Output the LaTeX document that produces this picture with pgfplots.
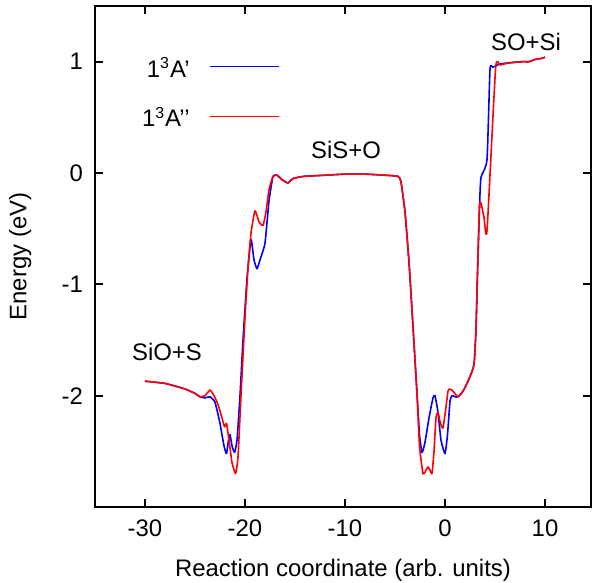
\documentclass[border=0pt]{standalone}
\usepackage{fontspec}
\setmainfont{Liberation Sans}
\usepackage{pgfplots}
\pgfplotsset{compat=1.18}

\begin{document}
\begin{tikzpicture}
\begin{axis}[
    scale only axis,
    width=248bp, height=250.5bp,
    xmin=-35, xmax=14.6,
    ymin=-3, ymax=1.5,
    xtick={-30,-20,-10,0,10},
    ytick={-2,-1,0,1},
    /pgf/number format/assume math mode=true,
    tick label style={font=\fontsize{12}{14}\selectfont},
    xticklabel style={yshift=-3bp},
    yticklabel style={xshift=-2.5bp},
    axis line style={line width=1bp},
    tick style={line width=1bp, black},
    major tick length=4bp,
    label style={font=\fontsize{12}{14}\selectfont},
    xlabel={Reaction coordinate (arb. units)},
    ylabel={Energy (eV)},
    xlabel style={at={(axis description cs:0.5,-0.126)}, anchor=center},
    ylabel style={at={(axis description cs:-0.151,0.5)}, anchor=center, rotate=0},
    clip=false,
]
% 1^3A'
\addplot[color=blue, line width=0.8pt, line join=round, smooth, tension=0.3] coordinates {
(-30,-1.87) (-28,-1.89) (-26,-1.94) (-25,-1.98) (-24.5,-2.01) (-24,-2.02)
(-23.5,-2.01) (-23.0,-2.06) (-22.5,-2.25) (-22.1,-2.45) (-21.85,-2.52)
(-21.65,-2.40) (-21.5,-2.35) (-21.3,-2.45) (-21.05,-2.51) (-20.8,-2.40)
(-20.5,-2.0) (-20.2,-1.5) (-19.8,-0.95) (-19.4,-0.60) (-19.1,-0.78)
(-18.8,-0.86) (-18.5,-0.78) (-18.0,-0.63) (-17.6,-0.25) (-17.2,-0.03)
(-16.8,-0.02) (-16.3,-0.06) (-15.7,-0.09) (-15.2,-0.05) (-14.1,-0.03)
(-12,-0.02) (-10,-0.01) (-8,-0.01) (-6,-0.02) (-4.7,-0.03) (-4.4,-0.08)
(-4.0,-0.35) (-3.6,-0.8) (-3.2,-1.38) (-2.8,-1.98) (-2.55,-2.35)
(-2.3,-2.51) (-2.0,-2.42) (-1.6,-2.2) (-1.2,-2.02) (-1.0,-2.0)
(-0.7,-2.15) (-0.4,-2.4) (0.0,-2.52) (0.25,-2.35) (0.5,-2.05)
(0.7,-2.0) (1.0,-2.01) (1.3,-2.01) (1.8,-1.96) (2.4,-1.85) (2.9,-1.72)
(3.1,-1.4) (3.25,-0.9) (3.45,-0.3) (3.6,-0.04) (4.2,0.12) (4.5,0.93)
(4.8,0.95) (5.5,0.98) (6.5,0.99) (7.7,1.0) (8.4,1.0) (9.0,1.02)
(9.7,1.03) (10,1.04)
};
% 1^3A''
\addplot[color=red, line width=0.8pt, line join=round, smooth, tension=0.3] coordinates {
(-30,-1.87) (-28,-1.89) (-26,-1.94) (-25,-1.98) (-24.5,-2.01) (-24,-2.00)
(-23.5,-1.95) (-23.1,-2.0) (-22.7,-2.08) (-22.3,-2.2) (-22.05,-2.28)
(-21.85,-2.25) (-21.6,-2.4) (-21.3,-2.6) (-20.95,-2.70) (-20.7,-2.55)
(-20.4,-2.0) (-20.0,-1.3) (-19.7,-0.85) (-19.4,-0.54) (-19.0,-0.34)
(-18.6,-0.44) (-18.2,-0.47) (-17.9,-0.35) (-17.6,-0.15) (-17.2,-0.03)
(-16.8,-0.02) (-16.3,-0.06) (-15.7,-0.09) (-15.2,-0.05) (-14.1,-0.03)
(-12,-0.02) (-10,-0.01) (-8,-0.01) (-6,-0.02) (-4.7,-0.03) (-4.4,-0.08)
(-4.0,-0.35) (-3.6,-0.8) (-3.2,-1.38) (-2.8,-1.98) (-2.55,-2.45)
(-2.2,-2.70) (-1.9,-2.67) (-1.7,-2.64) (-1.5,-2.67) (-1.3,-2.70)
(-1.1,-2.5) (-0.9,-2.2) (-0.7,-2.15) (-0.45,-2.25) (-0.2,-2.29)
(0.1,-2.1) (0.3,-1.96) (0.5,-1.94) (0.8,-1.96) (1.3,-2.01) (1.8,-1.96)
(2.4,-1.85) (2.9,-1.72) (3.1,-1.4) (3.25,-0.9) (3.45,-0.3) (3.6,-0.27)
(3.9,-0.40) (4.2,-0.52) (5.06,0.94) (5.5,0.97) (6.5,0.99) (7.7,1.0)
(8.4,1.0) (9.0,1.02) (9.7,1.03) (10,1.04)
};
% key, gnuplot style: text left of the line sample
\node[anchor=base east, inner sep=0pt, font=\fontsize{12}{14}\selectfont]
  at (axis description cs:0.1915,0.858) {1\textsuperscript{3}A\textquoteright};
\draw[blue, line width=0.6pt] (axis description cs:0.232,0.880) -- (axis description cs:0.371,0.880);
\node[anchor=base east, inner sep=0pt, font=\fontsize{12}{14}\selectfont]
  at (axis description cs:0.1915,0.7585) {1\textsuperscript{3}A\textquoteright\textquoteright};
\draw[red, line width=0.6pt] (axis description cs:0.232,0.779) -- (axis description cs:0.371,0.779);
\node[font=\fontsize{12}{14}\selectfont] at (axis cs:-27.8,-1.61) {SiO+S};
\node[font=\fontsize{12}{14}\selectfont] at (axis cs:-9.9,0.21) {SiS+O};
\node[font=\fontsize{12}{14}\selectfont] at (axis cs:8.1,1.18) {SO+Si};
\end{axis}
\pgfresetboundingbox
\path (current axis.south west) ++(-47.5bp,-38bp)
      (current axis.north east) ++(1.5bp,3bp);
\end{tikzpicture}
\end{document}
